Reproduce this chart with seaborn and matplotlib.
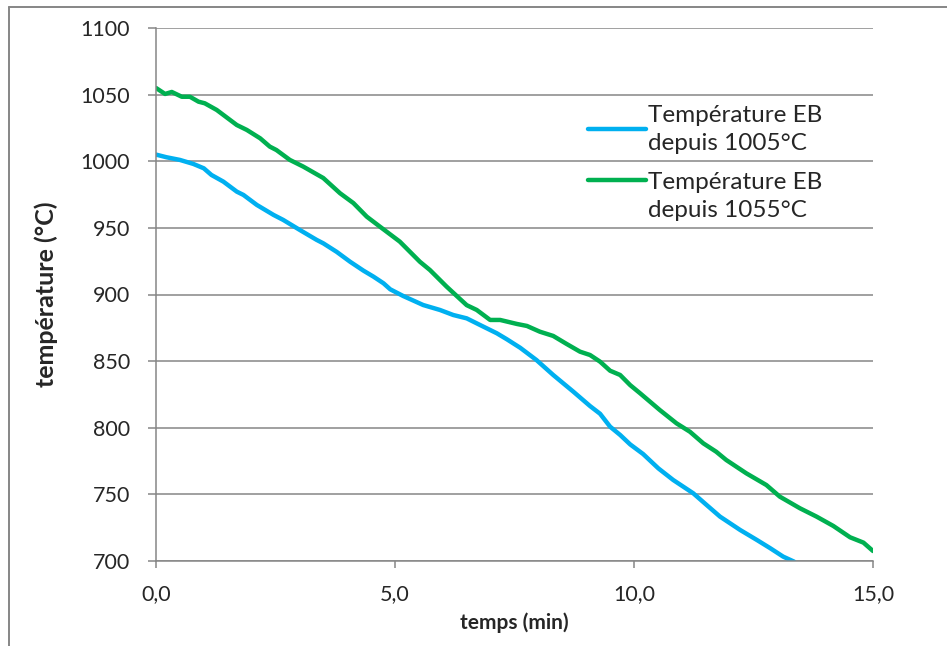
import matplotlib
matplotlib.use("Agg")
import matplotlib.pyplot as plt
import seaborn as sns
import pandas as pd
from matplotlib.lines import Line2D

# temps (min) / température (°C)
t_1005 = [0.0, 0.22, 0.5, 0.78, 1.0, 1.16, 1.41, 1.69, 1.83, 2.11, 2.46, 2.66,
          3.01, 3.36, 3.5, 3.78, 4.06, 4.34, 4.55, 4.76, 4.9, 5.17, 5.59, 5.94,
          6.22, 6.5, 6.78, 7.13, 7.34, 7.62, 7.96, 8.31, 8.73, 9.08, 9.29, 9.5,
          9.71, 9.92, 10.19, 10.51, 10.82, 11.24, 11.52, 11.8, 12.22, 12.57,
          12.85, 13.12, 13.35]
temp_1005 = [1005, 1003, 1001, 998, 994.7, 989.7, 984.7, 977.2, 974.7, 967.2,
             959.7, 956, 948.4, 941, 938.4, 932, 924.6, 917.9, 913.4, 908.4,
             903.9, 898.9, 892.1, 888.4, 884.6, 882.1, 877.1, 870.9, 866.4, 860,
             850.8, 839.6, 827.1, 816.3, 810.5, 800.8, 794.6, 787.5, 780.3,
             769.5, 760.8, 750.8, 742, 733.3, 723.3, 715.8, 709.6, 703.3, 699.5]

t_1055 = [0.0, 0.19, 0.33, 0.54, 0.71, 0.89, 1.02, 1.27, 1.69, 1.9, 2.18, 2.38,
          2.52, 2.8, 3.08, 3.5, 3.85, 4.13, 4.41, 4.7, 5.1, 5.52, 5.73, 6.08,
          6.5, 6.71, 6.99, 7.2, 7.55, 7.76, 8.03, 8.31, 8.59, 8.87, 9.08, 9.29,
          9.5, 9.71, 9.92, 10.13, 10.54, 10.89, 11.17, 11.45, 11.72, 11.93,
          12.35, 12.77, 13.05, 13.47, 13.82, 14.17, 14.52, 14.8, 15.0]
temp_1055 = [1055, 1050.5, 1052, 1048.4, 1048.4, 1044.7, 1043.5, 1038.5, 1027.2,
             1023.5, 1017.2, 1011, 1008.4, 1001, 996, 987.4, 976, 968.6, 958.4,
             950.5, 939.7, 924.6, 918.4, 905.9, 892, 888.4, 880.9, 880.9, 877.9,
             876.4, 872.1, 868.9, 862.9, 857.1, 854.6, 849.6, 842.8, 839.6, 832,
             825.8, 813.3, 803.3, 797, 788.3, 782, 775.8, 765.8, 757, 748.3,
             739.6, 733.3, 726.3, 717.8, 713.8, 707.5]

series_labels = ["Température EB\ndepuis 1005°C", "Température EB\ndepuis 1055°C"]
series_colors = ["#00B0F0", "#00B050"]

x_ticks = [0, 5, 10, 15]
x_tick_labels = ["0,0", "5,0", "10,0", "15,0"]
y_ticks = list(range(700, 1101, 50))

df = pd.concat([
    pd.DataFrame({"temps": t_1005, "temperature": temp_1005, "serie": series_labels[0]}),
    pd.DataFrame({"temps": t_1055, "temperature": temp_1055, "serie": series_labels[1]}),
])

sns.set_style("white")
plt.rcParams["font.family"] = ["Lato", "DejaVu Sans"]
grey = "#868686"
fs = 15.5

fig = plt.figure(figsize=(9.47, 6.46), dpi=100)
ax = fig.add_axes([156 / 947, 1 - 561 / 646, 717 / 947, 533 / 646])

sns.lineplot(data=df, x="temps", y="temperature", hue="serie",
             palette=dict(zip(series_labels, series_colors)),
             estimator=None, sort=False, linewidth=3.2, legend=False, ax=ax)

ax.set_xlim(0, 15)
ax.set_ylim(700, 1100)
ax.set_xticks(x_ticks)
ax.set_xticklabels(x_tick_labels)
ax.set_yticks(y_ticks)
ax.yaxis.grid(True, color=grey, linewidth=1.1)
ax.set_axisbelow(True)
for side in ["top", "right"]:
    ax.spines[side].set_visible(False)
for side in ["left", "bottom"]:
    ax.spines[side].set_color(grey)
    ax.spines[side].set_linewidth(1.1)
ax.tick_params(axis="x", direction="out", length=5, width=1.1, color=grey,
               labelsize=fs, pad=11.5, bottom=True)
ax.tick_params(axis="y", direction="out", length=5.8, width=1.1, color=grey,
               labelsize=fs, pad=13, left=True)

ax.set_xlabel("temps (min)", fontsize=15, fontweight="bold", labelpad=6)
ax.set_ylabel("température (°C)", fontsize=18, fontweight="bold")
ax.yaxis.set_label_coords(-0.136, 0.5)

# légende façon Excel, sans cadre
legend_rows = [(129, 129.5), (180, 196.5)]
for (line_y, text_y), label, color in zip(legend_rows, series_labels, series_colors):
    fig.add_artist(Line2D([588 / 947, 646 / 947], [1 - line_y / 646] * 2,
                          color=color, linewidth=3.2, transform=fig.transFigure))
    fig.text(648 / 947, 1 - text_y / 646, label, fontsize=17.5,
             va="center", ha="left", linespacing=1.36)

# cadre extérieur du graphique
fig.add_artist(Line2D([9 / 947, 9 / 947], [0, 1 - 7 / 646], color=grey,
                      linewidth=1.4, transform=fig.transFigure))
fig.add_artist(Line2D([9 / 947, 1], [1 - 7 / 646] * 2, color=grey,
                      linewidth=1.4, transform=fig.transFigure))

fig.savefig("out.png", dpi=100)
